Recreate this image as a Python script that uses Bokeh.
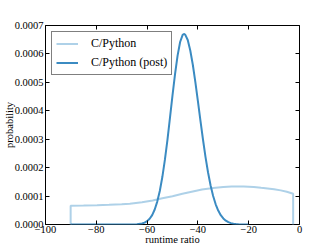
from bokeh.plotting import figure
from bokeh.models import (LinearAxis, FixedTicker, CustomJSTickFormatter, Range1d,
                          Legend, LegendItem)
from bokeh.embed import file_html
from bokeh.resources import INLINE

# ---- data ----
light_x = [-90.1, -90.1, -85, -79.7, -75, -70, -66.8, -62, -57.8, -54, -50, -46.1,
           -42, -38.4, -34, -30, -26.7, -22, -18, -15.1, -10, -7.4, -5, -2.5, -2.5]
light_y = [0, 0.0000659, 0.0000668, 0.000068, 0.0000695, 0.0000715, 0.000073, 0.000078,
           0.0000845, 0.000092, 0.0000995, 0.000108, 0.000116, 0.000123, 0.000128,
           0.000132, 0.000134, 0.000134, 0.000132, 0.000129, 0.000124, 0.00012,
           0.000115, 0.000108, 0]

dark_x = [-90.1, -70, -64, -62, -61, -60, -59, -58, -57, -56, -55, -54, -53, -52, -51,
          -50, -49, -48, -47, -46, -45.5, -45, -44, -43, -42, -41, -40, -39, -38, -37,
          -36, -35, -34, -33, -32, -31, -30, -29, -28, -27, -26, -25, -24, -22, -20]
dark_y = [0, 0, 0.0000012, 0.0000036, 0.0000066, 0.0000118, 0.0000202, 0.0000332,
          0.0000527, 0.0000806, 0.000118, 0.000167, 0.000227, 0.000297, 0.000375,
          0.000454, 0.000529, 0.000594, 0.000642, 0.000667, 0.00067, 0.000668,
          0.000649, 0.000612, 0.000562, 0.000501, 0.000434, 0.000365, 0.000299,
          0.000237, 0.000183, 0.000137, 0.0001, 0.0000711, 0.0000489, 0.0000327,
          0.0000213, 0.0000134, 0.0000082, 0.0000049, 0.0000028, 0.0000016,
          0.0000009, 0.0000002, 0]

x_ticks = [-100, -80, -60, -40, -20, 0]
y_ticks = [0.0, 0.0001, 0.0002, 0.0003, 0.0004, 0.0005, 0.0006, 0.0007]
labels = ["C/Python", "C/Python (post)"]
colors = ["#aed1e8", "#3b8bc2"]

FONT = "Liberation Serif"
TICK_FS = "10.5px"

p = figure(width=332, height=249, output_backend="svg", toolbar_location=None,
           x_axis_location=None, y_axis_location=None,
           x_range=Range1d(-100, 0), y_range=Range1d(0, 0.0007),
           min_border_left=41, min_border_right=33, min_border_top=25,
           min_border_bottom=25)
p.outline_line_color = "black"
p.outline_line_width = 1
p.xgrid.visible = False
p.ygrid.visible = False
p.background_fill_color = "white"
p.border_fill_color = "white"

xfmt = CustomJSTickFormatter(code="return tick < 0 ? '\u2212' + Math.abs(tick) : '' + tick;")
yfmt = CustomJSTickFormatter(code="return tick.toFixed(4);")
blank = CustomJSTickFormatter(code="return '';")


def style_axis(ax):
    ax.major_tick_in = 4
    ax.major_tick_out = 0
    ax.minor_tick_line_color = None
    ax.axis_line_color = None
    ax.major_tick_line_color = "black"
    ax.major_label_text_font = FONT
    ax.major_label_text_font_size = TICK_FS
    ax.major_label_text_color = "black"
    ax.axis_label_text_font = FONT
    ax.axis_label_text_font_size = TICK_FS
    ax.axis_label_text_font_style = "normal"
    ax.axis_label_text_color = "black"
    ax.major_label_standoff = 2


xb = LinearAxis(ticker=FixedTicker(ticks=x_ticks), formatter=xfmt, axis_label="runtime ratio")
style_axis(xb)
xb.major_label_standoff = 1
xb.axis_label_standoff = -2
p.add_layout(xb, "below")

xa = LinearAxis(ticker=FixedTicker(ticks=x_ticks), formatter=blank)
style_axis(xa)
p.add_layout(xa, "above")

yl = LinearAxis(ticker=FixedTicker(ticks=y_ticks), formatter=yfmt, axis_label="probability")
style_axis(yl)
yl.axis_label_standoff = -3
p.add_layout(yl, "left")

yr = LinearAxis(ticker=FixedTicker(ticks=y_ticks), formatter=blank)
style_axis(yr)
p.add_layout(yr, "right")

r1 = p.line(light_x, light_y, line_color=colors[0], line_width=2)
r2 = p.line(dark_x, dark_y, line_color=colors[1], line_width=2)

legend = Legend(items=[LegendItem(label=labels[0], renderers=[r1]),
                       LegendItem(label=labels[1], renderers=[r2])],
                location="top_left")
legend.label_text_font = FONT
legend.label_text_font_size = "12px"
legend.label_text_color = "black"
legend.border_line_color = "black"
legend.border_line_width = 1
legend.background_fill_alpha = 1
legend.margin = 6
legend.padding = 4
legend.spacing = 4
legend.glyph_width = 22
legend.glyph_height = 13
legend.label_height = 13
legend.label_standoff = 13
p.add_layout(legend)

open("out.html", "w").write(file_html(p, INLINE))
